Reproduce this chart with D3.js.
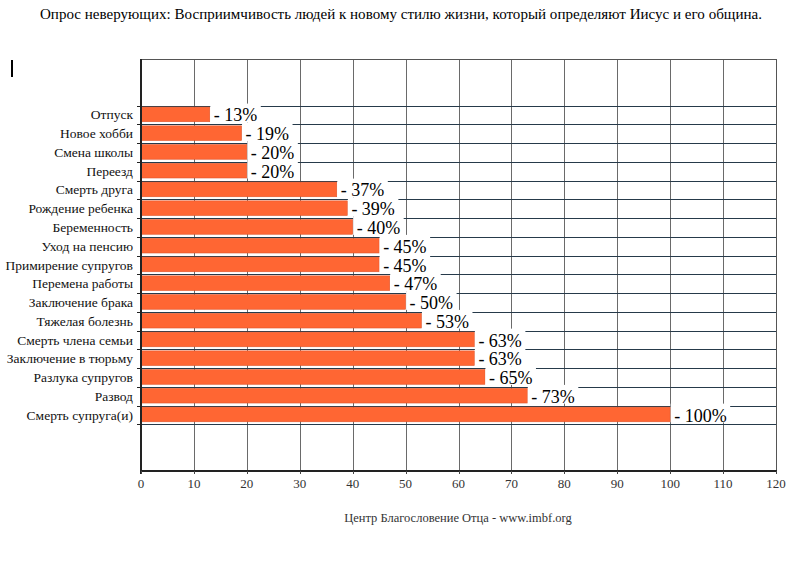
<!DOCTYPE html>
<html><head><meta charset="utf-8">
<script src="https://cdn.jsdelivr.net/npm/d3@7"></script>
<style>body{margin:0;background:#fff}svg{display:block}</style>
</head><body>
<svg id="c" width="800" height="588"></svg>
<script>
const title = "Опрос неверующих: Восприимчивость людей к новому стилю жизни, который определяют Иисус и его община.";
const source = "Центр Благословение Отца - www.imbf.org";
const categories = ["Отпуск","Новое хобби","Смена школы","Переезд","Смерть друга","Рождение ребенка","Беременность","Уход на пенсию","Примирение супругов","Перемена работы","Заключение брака","Тяжелая болезнь","Смерть члена семьи","Заключение в тюрьму","Разлука супругов","Развод","Смерть супруга(и)"];
const values = [13,19,20,20,37,39,40,45,45,47,50,53,63,63,65,73,100];
const xTicks = [0,10,20,30,40,50,60,70,80,90,100,110,120];

const svg = d3.select("#c");
const serif = "'Liberation Serif','Times New Roman',serif";
const L = 141, R = 776, T = 59, B = 471;
const x = d3.scaleLinear().domain([0,120]).range([L,R]);
const y = d3.scaleBand().domain(categories).range([105.6,424.4]).paddingInner(0).paddingOuter(0);
const bw = y.bandwidth();

// title
svg.append("text").attr("x",401).attr("y",19).attr("text-anchor","middle")
  .attr("font-family",serif).attr("font-size",15.5).attr("fill","#000")
  .attr("textLength",722).attr("lengthAdjust","spacingAndGlyphs")
  .text(title);

// cursor mark
svg.append("line").attr("x1",12).attr("x2",12).attr("y1",60).attr("y2",77).attr("stroke","#000").attr("stroke-width",2);

// vertical grid
svg.append("g").selectAll("line").data(xTicks.filter(d=>d>0)).join("line")
  .attr("x1",d=>Math.round(x(d))+0.5).attr("x2",d=>Math.round(x(d))+0.5)
  .attr("y1",T).attr("y2",B).attr("stroke",d=>d===120?"#555":"#6a6a6a").attr("stroke-width",1);

// horizontal grid at band boundaries
const bounds = categories.map(c=>y(c)).concat([y(categories[categories.length-1])+bw]);
svg.append("g").selectAll("line").data(bounds).join("line")
  .attr("x1",L).attr("x2",R).attr("y1",d=>Math.round(d)+0.5).attr("y2",d=>Math.round(d)+0.5)
  .attr("stroke","#263a4a").attr("stroke-width",1);

// top border
svg.append("line").attr("x1",L).attr("x2",R).attr("y1",T+0.5).attr("y2",T+0.5).attr("stroke","#555");

// bars
svg.append("g").selectAll("rect").data(categories).join("rect")
  .attr("x",L).attr("y",(c)=>y(c)+1.5).attr("width",(c,i)=>x(values[i])-L).attr("height",bw*0.78)
  .attr("fill","#ff6633").attr("stroke","#e0552a").attr("stroke-width",0.6);

// value labels with white boxes
const lg = svg.append("g");
categories.forEach((c,i)=>{
  const t = lg.append("text").attr("x",x(values[i])+4).attr("y",y(c)+bw/2+6.5)
    .attr("font-family",serif).attr("font-size",18).attr("fill","#000").text("- "+values[i]+"%");
  const w = t.node().getComputedTextLength();
  lg.insert("rect","text").attr("x",x(values[i])+0.5).attr("y",y(c)-2).attr("width",w+7).attr("height",bw)
    .attr("fill","#fff");
});
lg.selectAll("rect").lower();

// category labels
svg.append("g").selectAll("text").data(categories).join("text")
  .attr("x",133).attr("y",c=>y(c)+bw/2+4.5).attr("text-anchor","end")
  .attr("font-family",serif).attr("font-size",13.5).attr("fill","#111").text(c=>c);

// left ticks
svg.append("g").selectAll("line").data(bounds).join("line")
  .attr("x1",137).attr("x2",L).attr("y1",d=>Math.round(d)+0.5).attr("y2",d=>Math.round(d)+0.5)
  .attr("stroke","#222").attr("stroke-width",1);

// axes
svg.append("line").attr("x1",L).attr("x2",L).attr("y1",T).attr("y2",B+3).attr("stroke","#222").attr("stroke-width",2);
svg.append("line").attr("x1",L).attr("x2",R+1).attr("y1",B).attr("y2",B).attr("stroke","#222").attr("stroke-width",2);
svg.append("g").selectAll("line").data(xTicks).join("line")
  .attr("x1",d=>Math.round(x(d))+0.5).attr("x2",d=>Math.round(x(d))+0.5).attr("y1",B).attr("y2",B+3)
  .attr("stroke","#444");
svg.append("g").selectAll("text").data(xTicks).join("text")
  .attr("x",d=>x(d)).attr("y",488).attr("text-anchor","middle")
  .attr("font-family",serif).attr("font-size",13).attr("fill","#333").text(d=>d);

// source
svg.append("text").attr("x",458).attr("y",522).attr("text-anchor","middle")
  .attr("font-family",serif).attr("font-size",12.5).attr("fill","#333").text(source);
</script>
</body></html>
